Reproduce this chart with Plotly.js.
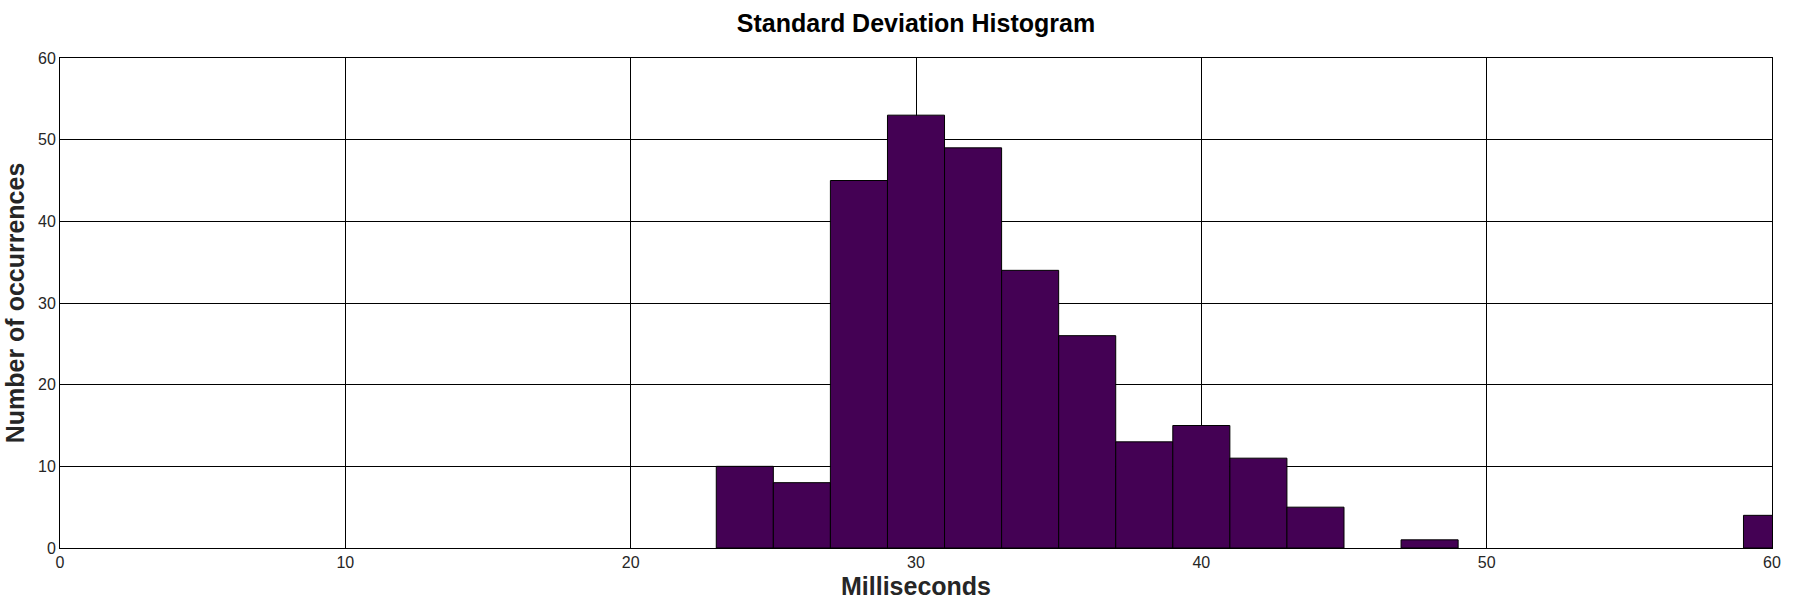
<!DOCTYPE html>
<html>
<head>
<meta charset="utf-8">
<script src="https://cdn.plot.ly/plotly-3.0.1.min.js"></script>
<style>html,body{margin:0;padding:0;background:#fff;}#chart{width:1800px;height:600px;}</style>
</head>
<body>
<div id="chart"></div>
<script>
// Bin centers (ms), bin width 2 ms (empty bins omitted)
const binCenters = [24, 26, 28, 30, 32, 34, 36, 38, 40, 42, 44, 48, 60];
const counts     = [10,  8, 45, 53, 49, 34, 26, 13, 15, 11,  5,  1,  4];
const binWidth = 2;
const xTicks = [0, 10, 20, 30, 40, 50, 60];
const yTicks = [0, 10, 20, 30, 40, 50, 60];

const trace = {
  type: 'bar',
  x: binCenters,
  y: counts,
  width: binCenters.map(() => binWidth),
  marker: {color: '#440154', line: {color: '#000000', width: 1}},
  hoverinfo: 'x+y'
};

const font = 'Liberation Sans, Arial, sans-serif';
const layout = {
  width: 1800, height: 600,
  margin: {l: 60, r: 28, t: 58, b: 52},
  paper_bgcolor: '#ffffff', plot_bgcolor: '#ffffff',
  showlegend: false,
  bargap: 0,
  font: {family: font, color: '#262626', size: 16},
  title: {
    text: '<b>Standard Deviation Histogram</b>',
    font: {family: font, size: 25, color: '#000000'},
    x: 0.5, xref: 'paper', xanchor: 'center',
    y: 1 - 23/600, yref: 'container', yanchor: 'middle'
  },
  xaxis: {
    range: [0, 60],
    tickvals: xTicks, ticktext: xTicks.map(String),
    showgrid: true, gridcolor: '#000000', gridwidth: 1,
    showline: true, linecolor: '#000000', linewidth: 1, mirror: true,
    zeroline: false, ticks: '', automargin: false,
    tickfont: {family: font, size: 16, color: '#262626'},
    title: {text: '<b>Milliseconds</b>', font: {family: font, size: 25, color: '#262626'}, standoff: 11}
  },
  yaxis: {
    range: [0, 60],
    tickvals: yTicks, ticktext: yTicks.map(String),
    showgrid: true, gridcolor: '#000000', gridwidth: 1,
    showline: true, linecolor: '#000000', linewidth: 1, mirror: true,
    zeroline: false, ticks: '', automargin: false,
    tickfont: {family: font, size: 16, color: '#262626'},
    title: {text: '<b>Number of occurrences</b>', font: {family: font, size: 25, color: '#262626'}, standoff: 6}
  }
};

Plotly.newPlot('chart', [trace], layout, {displayModeBar: false, staticPlot: true});
</script>
</body>
</html>
